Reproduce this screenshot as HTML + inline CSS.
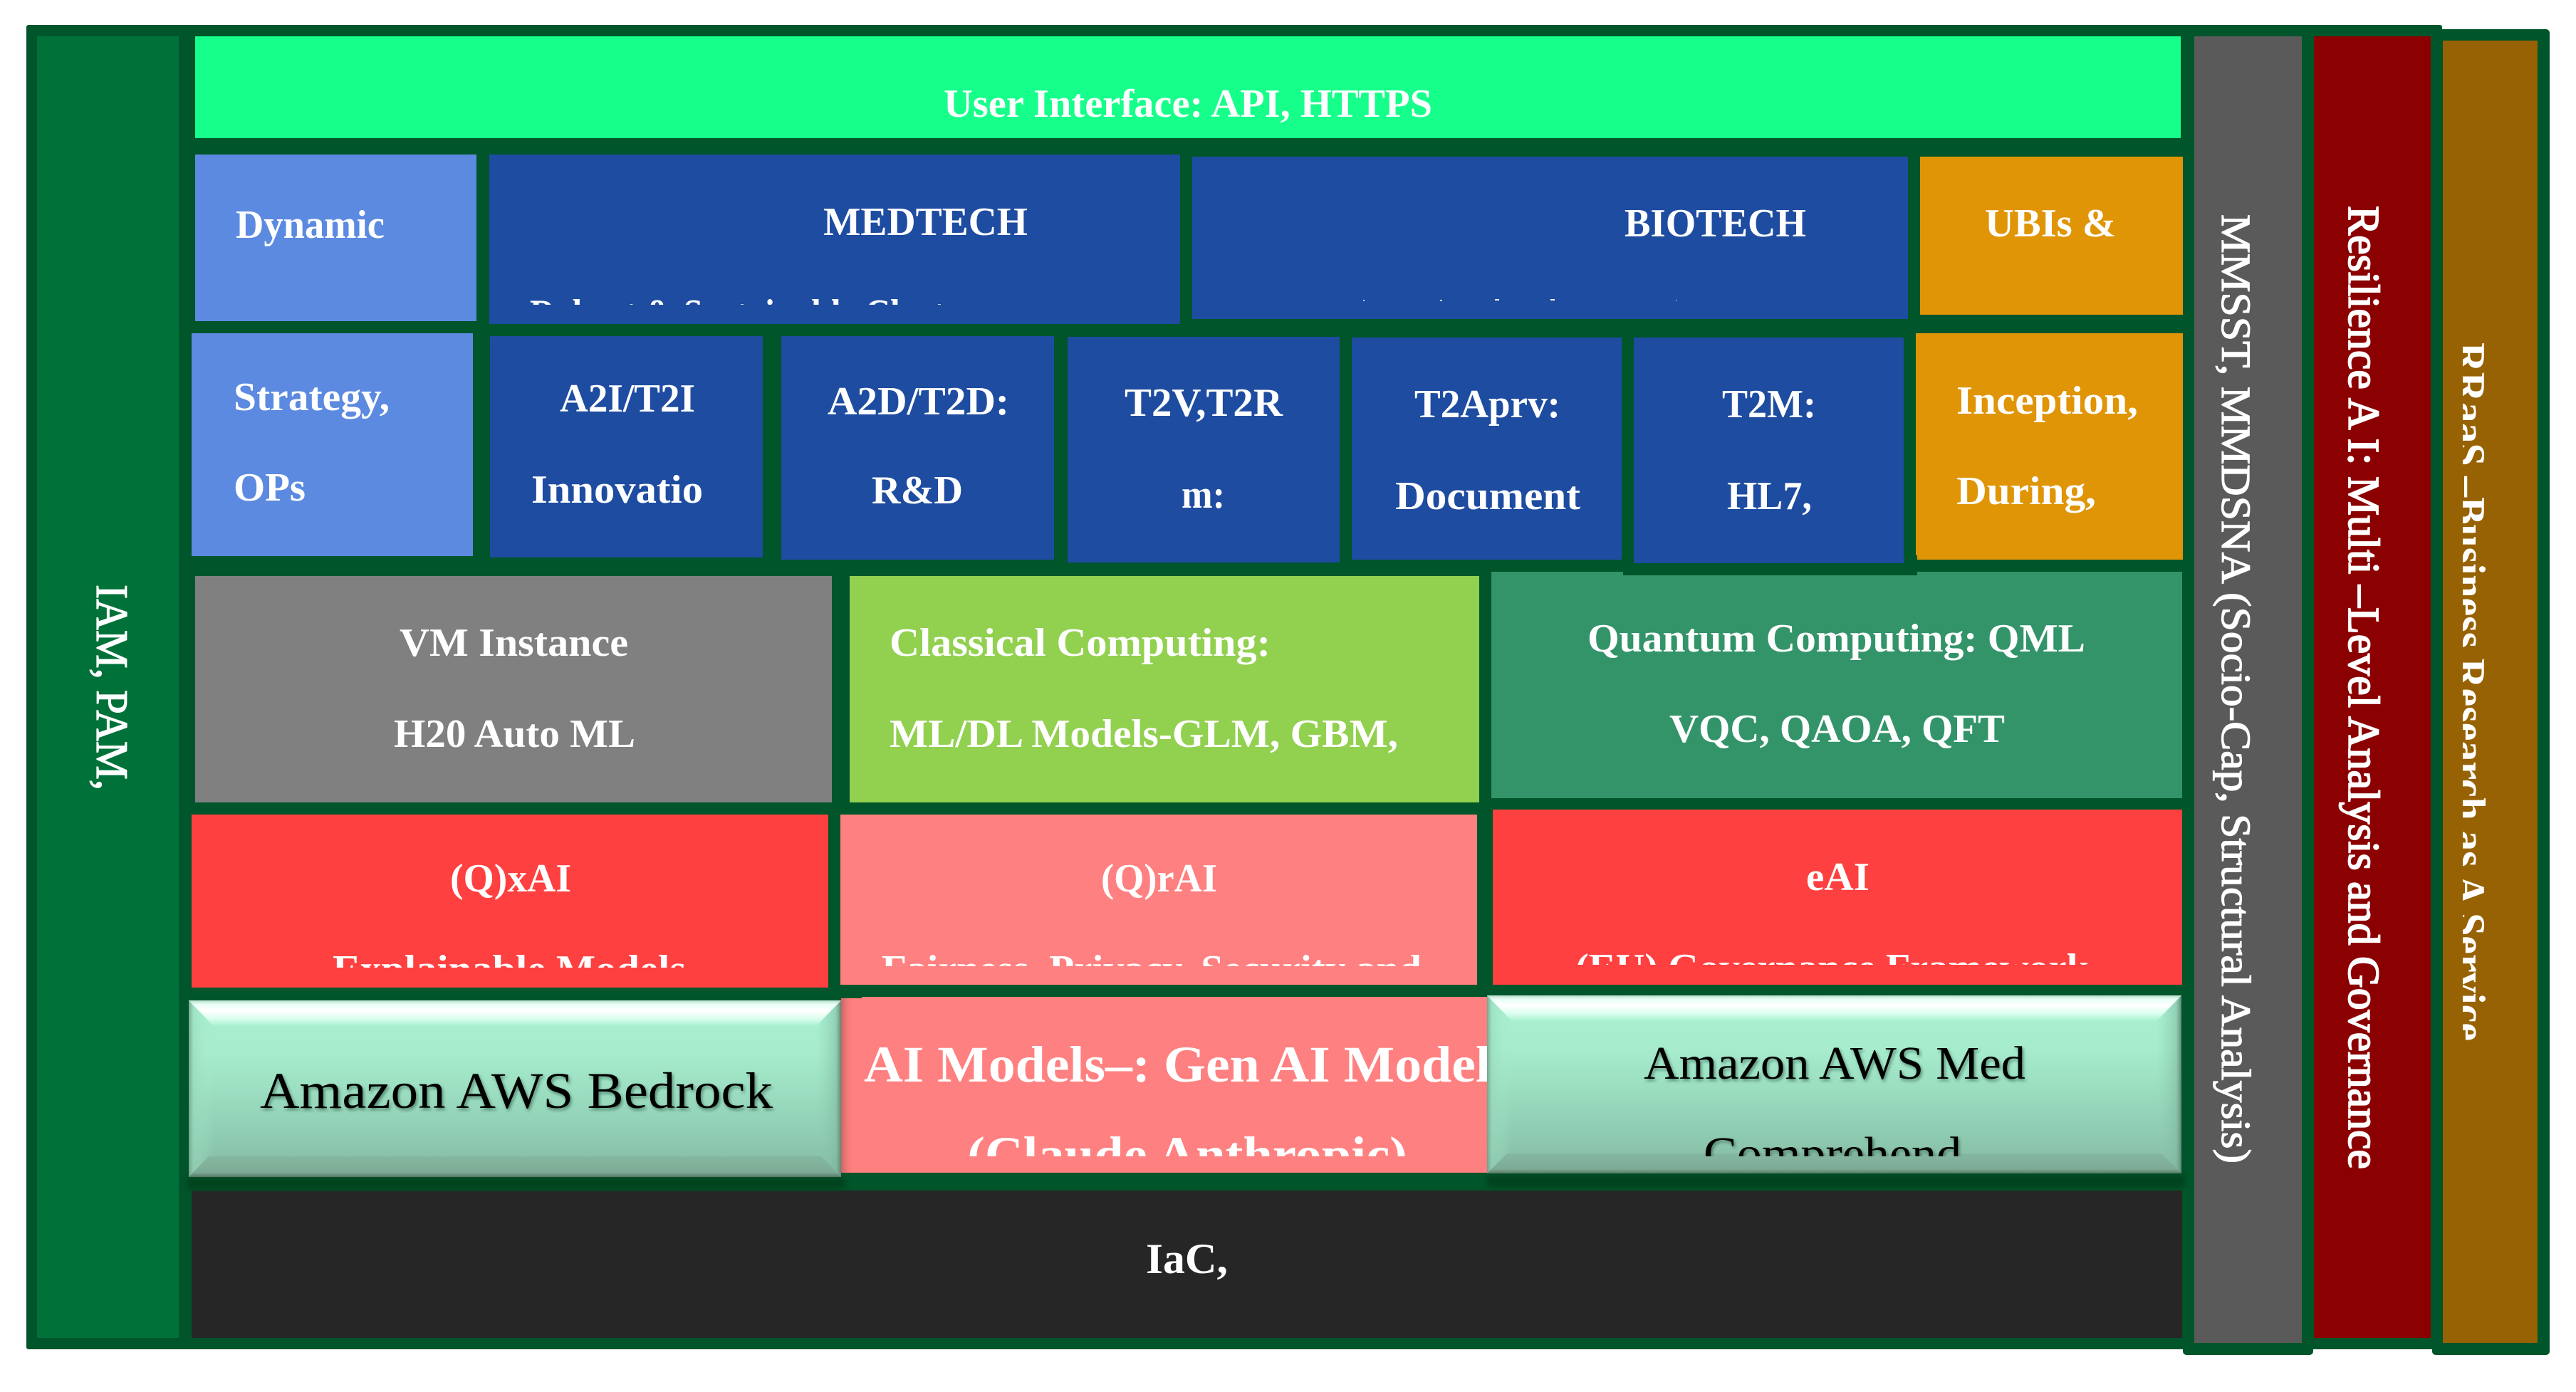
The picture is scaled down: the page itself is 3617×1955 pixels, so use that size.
<!DOCTYPE html>
<html lang="en">
<head>
<meta charset="utf-8">
<title>Layered AI Architecture Diagram</title>
<style>
html,body{margin:0;padding:0;background:#fff;}
svg{display:block;}
text{font-family:"Liberation Serif","DejaVu Serif",serif;fill:#fff;}
.b{font-weight:bold;font-size:56px;}
.r{font-weight:normal;stroke:#fff;stroke-width:1.2px;}
.k{fill:#000;font-weight:normal;filter:drop-shadow(2px 3px 2px rgba(0,40,20,.45));}
</style>
</head>
<body>
<svg xmlns="http://www.w3.org/2000/svg" width="3617" height="1955" viewBox="0 0 3617 1955">
<defs>
<clipPath id="c1"><rect x="680" y="400" width="980" height="28"/></clipPath>
<clipPath id="c2"><rect x="269" y="1300" width="900" height="59"/></clipPath>
<clipPath id="c3"><rect x="1180" y="1300" width="900" height="57"/></clipPath>
<clipPath id="c4"><rect x="2096" y="1300" width="970" height="55"/></clipPath>
<clipPath id="c5"><rect x="1181" y="1560" width="1890" height="64"/></clipPath>
<clipPath id="c6"><rect x="3458" y="400" width="100" height="1200"/></clipPath>
<linearGradient id="body" x1="0" y1="0" x2="0" y2="1">
<stop offset="0" stop-color="#a9f1d1"/><stop offset=".3" stop-color="#a6eccd"/><stop offset=".75" stop-color="#90ceb3"/><stop offset="1" stop-color="#84b8a0"/>
</linearGradient>
<linearGradient id="top" x1="0" y1="0" x2="0" y2="1">
<stop offset="0" stop-color="#b5dcc8"/><stop offset=".15" stop-color="#e8fff6"/><stop offset=".4" stop-color="#ffffff"/><stop offset=".7" stop-color="#dcfff0"/><stop offset="1" stop-color="#a9f1d1"/>
</linearGradient>
<linearGradient id="bot" x1="0" y1="0" x2="0" y2="1">
<stop offset="0" stop-color="#84b8a0"/><stop offset=".78" stop-color="#7dab96"/><stop offset="1" stop-color="#5a7868"/>
</linearGradient>
<linearGradient id="lft" x1="0" y1="0" x2="1" y2="0">
<stop offset="0" stop-color="#6f9c88" stop-opacity=".9"/><stop offset=".2" stop-color="#98d8bc" stop-opacity=".55"/><stop offset="1" stop-color="#a9f1d1" stop-opacity="0"/>
</linearGradient>
<linearGradient id="rgt" x1="0" y1="0" x2="1" y2="0">
<stop offset="0" stop-color="#8fcfb2" stop-opacity="0"/><stop offset=".78" stop-color="#7fb8a0" stop-opacity=".55"/><stop offset="1" stop-color="#5f8676" stop-opacity="1"/>
</linearGradient>
<linearGradient id="sh" x1="0" y1="0" x2="1" y2="0">
<stop offset="0" stop-color="#b05a5a" stop-opacity=".7"/><stop offset="1" stop-color="#ff8080" stop-opacity="0"/>
</linearGradient>
<filter id="blur" x="-5%" y="-30%" width="110%" height="160%"><feGaussianBlur stdDeviation="4"/></filter>
</defs>

<rect width="3617" height="1955" fill="#fff"/>

<!-- Outer dark frame -->
<rect x="37" y="35" width="3392" height="1860" rx="3" fill="#00552a"/>
<rect x="3415" y="41" width="165" height="1862" rx="5" fill="#00552a"/>
<rect x="3065" y="1600" width="183" height="303" rx="5" fill="#00552a"/>

<!-- Left bar -->
<rect x="52" y="51" width="199" height="1828" fill="#007239"/>
<text class="r" transform="translate(136,821) rotate(90)" font-size="64" textLength="289" lengthAdjust="spacingAndGlyphs">IAM, PAM,</text>

<!-- User interface -->
<rect x="274" y="51" width="2788" height="143" fill="#16ff8a"/>
<text class="b" x="1325" y="164" textLength="686" lengthAdjust="spacingAndGlyphs">User Interface: API, HTTPS</text>

<!-- Row 2 -->
<rect x="274" y="217" width="395" height="234" fill="#5c8ae0"/>
<text class="b" x="331" y="334" textLength="209" lengthAdjust="spacingAndGlyphs">Dynamic</text>

<rect x="687" y="217" width="970" height="238" fill="#1e4ca0"/>
<text class="b" x="1156" y="330" textLength="287" lengthAdjust="spacingAndGlyphs">MEDTECH</text>
<text class="b" x="744" y="459" textLength="626" lengthAdjust="spacingAndGlyphs" clip-path="url(#c1)">Robust &amp; Sustainable Cluster</text>

<rect x="1674" y="220" width="1005" height="228" fill="#1e4ca0"/>
<text class="b" x="2281" y="332" textLength="255" lengthAdjust="spacingAndGlyphs">BIOTECH</text>
<rect x="1914" y="421" width="2" height="1.5" fill="#fff"/>
<rect x="2022" y="421" width="3" height="1.5" fill="#fff"/>
<rect x="2099" y="420" width="6" height="2" fill="#fff"/>
<rect x="2177" y="420" width="6" height="2" fill="#fff"/>
<rect x="2353" y="421" width="1" height="1.5" fill="#fff"/>

<rect x="2696" y="220" width="369" height="222" fill="#e09506"/>
<text class="b" x="2787" y="332" textLength="184" lengthAdjust="spacingAndGlyphs">UBIs &amp;</text>

<!-- Row 3 -->
<rect x="269" y="468" width="395" height="313" fill="#5c8ae0"/>
<text class="b" x="328" y="576" textLength="219" lengthAdjust="spacingAndGlyphs">Strategy,</text>
<text class="b" x="328" y="703" textLength="101" lengthAdjust="spacingAndGlyphs">OPs</text>

<rect x="688" y="472" width="383" height="311" fill="#1e4ca0"/>
<text class="b" x="786" y="578" textLength="190" lengthAdjust="spacingAndGlyphs">A2I/T2I</text>
<text class="b" x="746" y="706" textLength="241" lengthAdjust="spacingAndGlyphs">Innovatio</text>

<rect x="1097" y="472" width="383" height="314" fill="#1e4ca0"/>
<text class="b" x="1162" y="582" textLength="255" lengthAdjust="spacingAndGlyphs">A2D/T2D:</text>
<text class="b" x="1224" y="707" textLength="128" lengthAdjust="spacingAndGlyphs">R&amp;D</text>

<rect x="1499" y="473" width="382" height="317" fill="#1e4ca0"/>
<text class="b" x="1579" y="584" textLength="222" lengthAdjust="spacingAndGlyphs">T2V,T2R</text>
<text class="b" x="1659" y="713" textLength="61" lengthAdjust="spacingAndGlyphs">m:</text>

<rect x="1898" y="474" width="379" height="312" fill="#1e4ca0"/>
<text class="b" x="1986" y="586" textLength="205" lengthAdjust="spacingAndGlyphs">T2Aprv:</text>
<text class="b" x="1959" y="715" textLength="260" lengthAdjust="spacingAndGlyphs">Document</text>

<rect x="2690" y="468" width="375" height="318" fill="#e09506"/>
<text class="b" x="2747" y="581" textLength="255" lengthAdjust="spacingAndGlyphs">Inception,</text>
<text class="b" x="2747" y="708" textLength="196" lengthAdjust="spacingAndGlyphs">During,</text>

<!-- Row 4 -->
<rect x="274" y="809" width="894" height="318" fill="#808080"/>
<text class="b" x="561" y="921" textLength="321" lengthAdjust="spacingAndGlyphs">VM Instance</text>
<text class="b" x="553" y="1049" textLength="339" lengthAdjust="spacingAndGlyphs">H20 Auto ML</text>

<rect x="1193" y="809" width="884" height="318" fill="#92d050"/>
<text class="b" x="1249" y="921" textLength="535" lengthAdjust="spacingAndGlyphs">Classical Computing:</text>
<text class="b" x="1249" y="1049" textLength="714" lengthAdjust="spacingAndGlyphs">ML/DL Models-GLM, GBM,</text>

<rect x="2094" y="803" width="970" height="318" fill="#339469"/>
<text class="b" x="2229" y="915" textLength="699" lengthAdjust="spacingAndGlyphs">Quantum Computing: QML</text>
<text class="b" x="2344" y="1042" textLength="471" lengthAdjust="spacingAndGlyphs">VQC, QAOA, QFT</text>

<!-- T2M box with frame overhang -->
<rect x="2279" y="780" width="413" height="28" fill="#00552a"/>
<rect x="2294" y="474" width="379" height="317" fill="#1e4ca0"/>
<text class="b" x="2418" y="586" textLength="132" lengthAdjust="spacingAndGlyphs">T2M:</text>
<text class="b" x="2425" y="715" textLength="119" lengthAdjust="spacingAndGlyphs">HL7,</text>

<!-- Row 5 -->
<rect x="269" y="1144" width="894" height="243" fill="#ff4040"/>
<text class="b" x="632" y="1252" textLength="170" lengthAdjust="spacingAndGlyphs">(Q)xAI</text>
<text class="b" x="467" y="1380" textLength="496" lengthAdjust="spacingAndGlyphs" clip-path="url(#c2)">Explainable Models</text>

<rect x="1180" y="1144" width="894" height="239" fill="#ff8080"/>
<text class="b" x="1546" y="1252" textLength="163" lengthAdjust="spacingAndGlyphs">(Q)rAI</text>
<text class="b" x="1238" y="1380" textLength="758" lengthAdjust="spacingAndGlyphs" clip-path="url(#c3)">Fairness, Privacy, Security and</text>

<rect x="2096" y="1137" width="968" height="246" fill="#ff4040"/>
<text class="b" x="2536" y="1250" textLength="89" lengthAdjust="spacingAndGlyphs">eAI</text>
<text class="b" x="2212" y="1378" textLength="721" lengthAdjust="spacingAndGlyphs" clip-path="url(#c4)">(EU) Governance Framework</text>

<!-- IaC -->
<rect x="269" y="1672" width="2795" height="207" fill="#262626"/>
<text class="b" x="1609" y="1788" textLength="115" lengthAdjust="spacingAndGlyphs" style="font-size:60px">IaC,</text>

<!-- Shadows under buttons -->
<rect x="262" y="1654" width="925" height="16" fill="#00431f" filter="url(#blur)"/>
<rect x="2088" y="1650" width="980" height="18" fill="#00431f" filter="url(#blur)"/>

<!-- AI Models -->
<rect x="1181" y="1402" width="30" height="245" fill="#ff8080"/>
<rect x="1210" y="1400" width="880" height="247" fill="#ff8080"/>
<rect x="1181" y="1402" width="18" height="245" fill="url(#sh)"/>
<text class="b" x="1213" y="1519" textLength="880" lengthAdjust="spacingAndGlyphs" style="font-size:72px">AI Models–: Gen AI Model</text>
<text class="b" x="1358" y="1646" textLength="618" lengthAdjust="spacingAndGlyphs" style="font-size:72px" clip-path="url(#c5)">(Claude Anthropic)</text>

<!-- Bedrock button -->
<rect x="265" y="1405" width="916" height="248" fill="url(#body)"/>
<polygon points="265,1653 300,1620 300,1440 265,1405" fill="url(#lft)"/>
<polygon points="1181,1653 1146,1620 1146,1440 1181,1405" fill="url(#rgt)"/>
<polygon points="265,1405 1181,1405 1146,1441 300,1441" fill="url(#top)"/>
<polygon points="265,1653 1181,1653 1153,1624 293,1624" fill="url(#bot)"/>
<text class="k" x="365" y="1556" font-size="72" textLength="720" lengthAdjust="spacingAndGlyphs">Amazon AWS Bedrock</text>

<!-- Med Comprehend button -->
<rect x="2088" y="1398" width="975" height="250" fill="url(#body)"/>
<polygon points="2088,1648 2123,1616 2123,1434 2088,1398" fill="url(#lft)"/>
<polygon points="3063,1648 3028,1616 3028,1434 3063,1398" fill="url(#rgt)"/>
<polygon points="2088,1398 3063,1398 3028,1434 2123,1434" fill="url(#top)"/>
<polygon points="2088,1648 3063,1648 3035,1620 2116,1620" fill="url(#bot)"/>
<text class="k" x="2308" y="1515" font-size="66" textLength="536" lengthAdjust="spacingAndGlyphs">Amazon AWS Med</text>
<text class="k" x="2392" y="1642" font-size="66" textLength="362" lengthAdjust="spacingAndGlyphs" clip-path="url(#c5)">Comprehend</text>

<!-- Right columns -->
<rect x="3081" y="51" width="151" height="1835" fill="#5a5a5a"/>
<text class="r" transform="translate(3120,301) rotate(90)" font-size="58" textLength="1333" lengthAdjust="spacingAndGlyphs">MMSST, MMDSNA (Socio-Cap, Structural Analysis)</text>

<rect x="3249" y="51" width="164" height="1828" fill="#8b0000"/>
<text class="r" transform="translate(3298,289) rotate(90)" font-size="62" textLength="1353" lengthAdjust="spacingAndGlyphs" style="stroke-width:1.8px">Resilience A I: Multi –Level Analysis and Governance</text>

<rect x="3430" y="57" width="133" height="1829" fill="#976204"/>
<g clip-path="url(#c6)">
<text transform="translate(3448,481) rotate(90)" font-size="60" font-weight="bold" textLength="981" lengthAdjust="spacingAndGlyphs">RRaaS –Business Research as A Service</text>
</g>
</svg>
</body>
</html>
